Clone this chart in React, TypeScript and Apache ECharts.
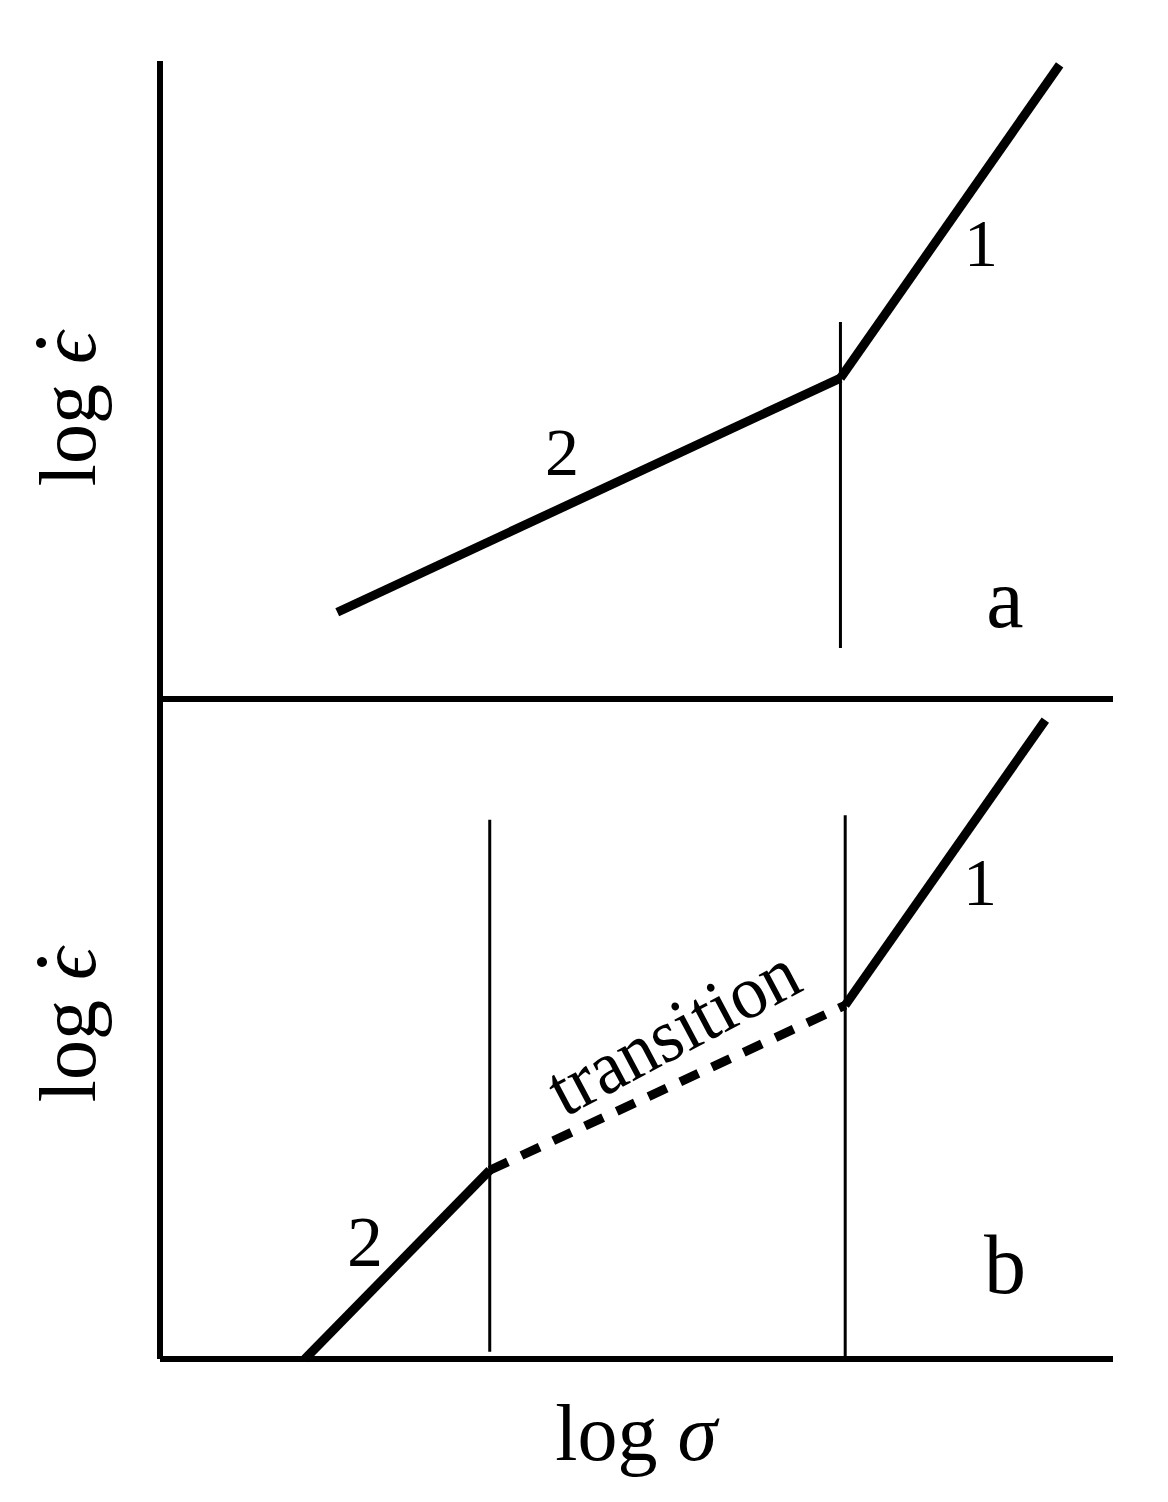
import React, { useEffect, useRef } from "react";
import * as echarts from "echarts";

// Panel a (upper): log strain rate vs log stress, two regimes
const panelARegime2 = [[18.6, 13.6], [71.4, 50.3]];
const panelARegime1 = [[71.4, 50.3], [94.4, 99.4]];
const panelABoundary = [[71.4, 8.0], [71.4, 59.1]];

// Panel b (lower): two regimes joined by a transition
const panelBRegime2 = [[15.2, 0], [34.6, 28.6]];
const panelBTransition = [[34.6, 28.6], [71.9, 53.6]];
const panelBRegime1 = [[71.9, 53.6], [92.9, 96.8]];
const panelBBoundaryLow = [[34.6, 1.1], [34.6, 81.7]];
const panelBBoundaryHigh = [[71.9, 0], [71.9, 82.4]];

const yAxisTitle = "log ";
const yAxisSymbol = "\u03F5";
const xAxisTitle = "log ";
const xAxisSymbol = "\u03C3";
const regimeLabels = ["1", "2"];
const panelLabels = ["a", "b"];
const transitionLabel = "transition";

const FONT = "'Liberation Serif', 'DejaVu Serif', 'Times New Roman', serif";

export default function App() {
  const ref = useRef<HTMLDivElement>(null);

  useEffect(() => {
    document.body.style.margin = "0";
    const chart = echarts.init(ref.current!, undefined, { renderer: "svg" });

    const axisCommon = {
      type: "value" as const,
      min: 0,
      max: 100,
      axisLine: { show: true, onZero: false, lineStyle: { color: "#000", width: 6, cap: "butt" } },
      axisTick: { show: false },
      axisLabel: { show: false },
      splitLine: { show: false },
    };

    const seg = (data: number[][], idx: number, width: number, type: any = "solid") => ({
      type: "line" as const,
      xAxisIndex: idx,
      yAxisIndex: idx,
      data,
      symbol: "none",
      showSymbol: false,
      clip: false,
      silent: true,
      lineStyle: { color: "#000", width, type, cap: "butt" },
    });

    const txt = (text: string, x: number, y: number, size: number, rotation = 0, rich?: any, extra: any = {}) => ({
      type: "text" as const,
      x,
      y,
      rotation,
      ...extra,
      style: {
        text,
        fontFamily: FONT,
        fontSize: size,
        fill: "#000",
        align: "center",
        verticalAlign: "middle",
        rich,
      },
    });

    const titleRich = {
      n: { fontFamily: FONT, fontSize: 80, fill: "#000" },
      s: { fontFamily: FONT, fontSize: 80, fontStyle: "italic", fill: "#000" },
    };

    const dot = (x: number, y: number) => ({
      type: "circle" as const,
      shape: { cx: x, cy: y, r: 5 },
      style: { fill: "#000" },
    });

    chart.setOption({
      animation: false,
      backgroundColor: "#fff",
      grid: [
        { left: 160, top: 61, width: 953, height: 638 },
        { left: 160, top: 699, width: 953, height: 660 },
      ],
      xAxis: [
        { ...axisCommon, gridIndex: 0 },
        { ...axisCommon, gridIndex: 1 },
      ],
      yAxis: [
        { ...axisCommon, gridIndex: 0 },
        { ...axisCommon, gridIndex: 1 },
      ],
      series: [
        seg(panelARegime2, 0, 9),
        seg(panelARegime1, 0, 9),
        seg(panelABoundary, 0, 3),
        seg(panelBRegime2, 1, 9),
        seg(panelBTransition, 1, 9, [20, 15]),
        seg(panelBRegime1, 1, 9),
        seg(panelBBoundaryLow, 1, 3),
        seg(panelBBoundaryHigh, 1, 3),
      ],
      graphic: [
        txt(`{n|${yAxisTitle}}{s|${yAxisSymbol}}`, 68, 409, 80, Math.PI / 2, titleRich),
        dot(41, 343),
        txt(`{n|${yAxisTitle}}{s|${yAxisSymbol}}`, 68, 1025, 80, Math.PI / 2, titleRich),
        dot(42, 962),
        txt(`{n|${xAxisTitle}}{s|${xAxisSymbol}}`, 636, 1433, 80, 0, titleRich),
        txt(regimeLabels[0], 981, 243, 68),
        txt(regimeLabels[1], 562, 452, 68),
        txt(panelLabels[0], 1005, 598, 84),
        txt(regimeLabels[0], 980, 882, 68),
        txt(regimeLabels[1], 365, 1242, 72),
        txt(panelLabels[1], 1005, 1264, 84),
        txt(transitionLabel, 673, 1031, 76, (28 * Math.PI) / 180, undefined, { scaleX: 0.95 }),
      ],
    });

    return () => chart.dispose();
  }, []);

  return <div ref={ref} style={{ width: 1168, height: 1502 }} />;
}
